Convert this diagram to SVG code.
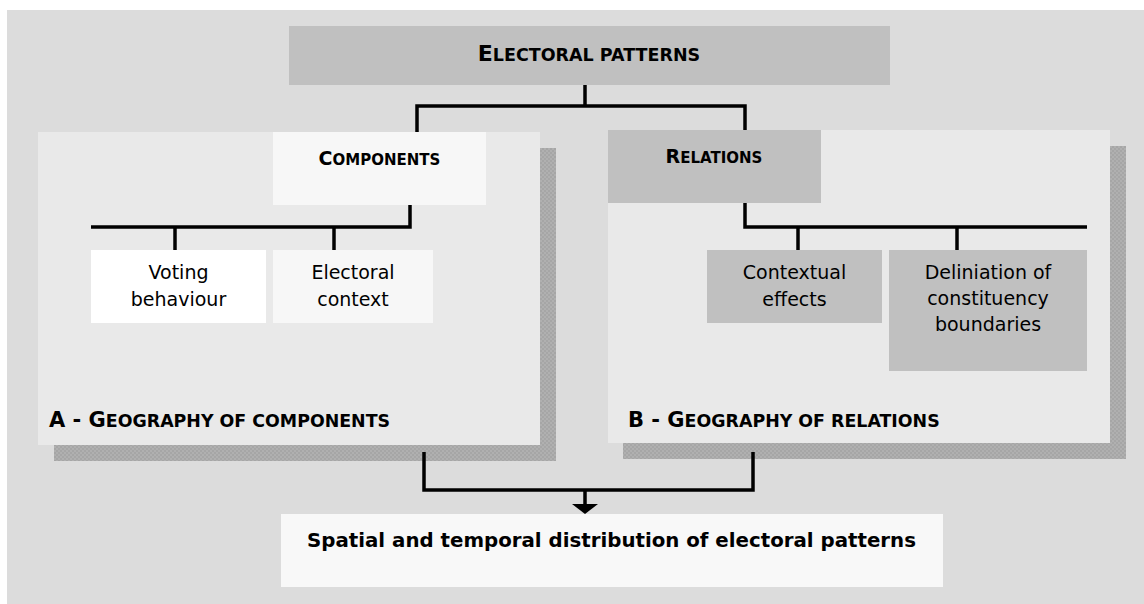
<svg xmlns="http://www.w3.org/2000/svg" width="1144" height="604" viewBox="0 0 1144 604">
  <style>
    .txt { font-family: "DejaVu Sans", Verdana, sans-serif; font-size: 19px; fill: #000; text-anchor: middle; }
    .hd { font-family: "DejaVu Sans", Verdana, sans-serif; font-weight: bold; fill: #000; }
    .mid { text-anchor: middle; }
    .panel { fill: #e9e9e9; }
    .shadow { fill: url(#dither); }
    .dark { fill: #c0c0c0; }
    .pale { fill: #f7f7f7; }
    .white { fill: #ffffff; }
    .wire { fill: none; stroke: #000; stroke-width: 3.5; stroke-linejoin: miter; }
  </style>
  <defs>
    <pattern id="dither" width="4" height="4" patternUnits="userSpaceOnUse">
      <rect width="4" height="4" fill="#a6a6a6"/>
      <rect width="2" height="2" fill="#b0b0b0"/>
      <rect x="2" y="2" width="2" height="2" fill="#b0b0b0"/>
    </pattern>
  </defs>

  <!-- backdrop -->
  <rect x="7" y="10" width="1137" height="594" fill="#dcdcdc"/>

  <!-- panel A: geography of components -->
  <g id="panel-a">
    <rect class="shadow" x="54" y="148" width="502" height="313"/>
    <rect class="panel" x="38" y="132" width="502" height="313"/>
    <text class="hd" x="49" y="427"><tspan font-size="21">A - G</tspan><tspan font-size="17.4">EOGRAPHY OF COMPONENTS</tspan></text>
  </g>

  <!-- panel B: geography of relations -->
  <g id="panel-b">
    <rect class="shadow" x="623" y="146" width="503" height="313"/>
    <rect class="panel" x="608" y="130" width="502" height="313"/>
    <text class="hd" x="628" y="427"><tspan font-size="21">B - G</tspan><tspan font-size="17.4">EOGRAPHY OF RELATIONS</tspan></text>
  </g>

  <g id="electoral-patterns">
    <rect class="dark" x="289" y="26" width="601" height="59"/>
    <text class="hd mid" x="589" y="61"><tspan font-size="22">E</tspan><tspan font-size="17.5">LECTORAL PATTERNS</tspan></text>
  </g>

  <g id="components">
    <rect class="pale" x="273" y="132" width="213" height="73"/>
    <text class="hd mid" x="379.5" y="165"><tspan font-size="19">C</tspan><tspan font-size="15">OMPONENTS</tspan></text>
  </g>

  <g id="relations">
    <rect class="dark" x="608" y="130" width="213" height="73"/>
    <text class="hd mid" x="714" y="163"><tspan font-size="19">R</tspan><tspan font-size="15">ELATIONS</tspan></text>
  </g>

  <g id="voting-behaviour">
    <rect class="white" x="91" y="250" width="175" height="73"/>
    <text class="txt" x="178.5" y="279">Voting</text>
    <text class="txt" x="178.5" y="306">behaviour</text>
  </g>

  <g id="electoral-context">
    <rect class="pale" x="273" y="250" width="160" height="73"/>
    <text class="txt" x="353" y="279">Electoral</text>
    <text class="txt" x="353" y="306">context</text>
  </g>

  <g id="contextual-effects">
    <rect class="dark" x="707" y="250" width="175" height="73"/>
    <text class="txt" x="794.5" y="279">Contextual</text>
    <text class="txt" x="794.5" y="306">effects</text>
  </g>

  <g id="constituency-boundaries">
    <rect class="dark" x="889" y="250" width="198" height="121"/>
    <text class="txt" x="988" y="279">Deliniation of</text>
    <text class="txt" x="988" y="305">constituency</text>
    <text class="txt" x="988" y="331">boundaries</text>
  </g>

  <g id="distribution">
    <rect fill="#f8f8f8" x="281" y="514" width="662" height="73"/>
    <text class="hd mid" font-size="19.8" x="611.5" y="547">Spatial and temporal distribution of electoral patterns</text>
  </g>

  <!-- connectors -->
  <g id="connectors">
    <path class="wire" d="M585 85 V106"/>
    <path class="wire" d="M417 132 V106 H745 V130"/>
    <path class="wire" d="M410 205 V227 H91"/>
    <path class="wire" d="M175 227 V250"/>
    <path class="wire" d="M334 227 V250"/>
    <path class="wire" d="M745 203 V227 H1087"/>
    <path class="wire" d="M798 227 V250"/>
    <path class="wire" d="M957 227 V250"/>
    <path class="wire" d="M424 452 V490 H753 V452"/>
    <path class="wire" d="M585 490 V505"/>
    <polygon points="572,504 598,504 585,514" fill="#000"/>
  </g>
</svg>
